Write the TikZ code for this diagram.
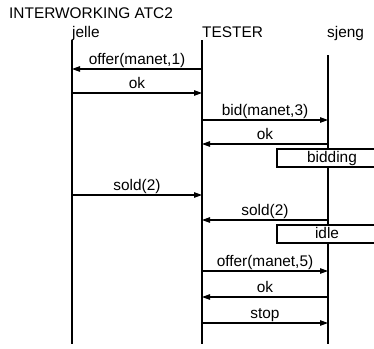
\documentclass[tikz,border=0pt]{standalone}
\usepackage{fontspec}
\setmainfont{Liberation Sans}
\usetikzlibrary{arrows.meta}
\begin{document}
\begin{tikzpicture}[x=1pt,y=-1pt,
  every node/.style={font=\fontsize{15.4}{18}\selectfont, inner sep=0pt},
  life/.style={line width=1.6pt},
  msg/.style={line width=1.1pt, -{Triangle[length=8pt,width=5.5pt]}},
  lbl/.style={anchor=base},
  statebox/.style={fill=white, line width=1.1pt}]
\useasboundingbox (0,0) rectangle (374,348);
\node[anchor=base west] (title) at (9,18.5) {INTERWORKING ATC2};
% lifeline heads
\node[anchor=base west] (jn) at (72,37.5) {jelle};
\node[anchor=base west] (tn) at (202,37.5) {TESTER};
\node[anchor=base west] (sn) at (327,37.5) {sjeng};
\coordinate (J) at (72,40);  \coordinate (Jb) at (72,344);
\coordinate (T) at (202,40); \coordinate (Tb) at (202,344);
\coordinate (S) at (328,55); \coordinate (Sb) at (328,344);
\draw[life] (J) -- (Jb);
\draw[life] (T) -- (Tb);
\draw[life] (S) -- (Sb);
% messages
\draw[msg] (T |- 0,69) -- (J |- 0,69);
\node[lbl] (m1) at (137,64.5) {offer(manet,1)};
\draw[msg] (J |- 0,93) -- (T |- 0,93);
\node[lbl] (m2) at (137,88) {ok};
\draw[msg] (T |- 0,120) -- (S |- 0,120);
\node[lbl] (m3) at (265,115) {bid(manet,3)};
\draw[msg] (S |- 0,144) -- (T |- 0,144);
\node[lbl] (m4) at (265,139) {ok};
\draw[statebox] (375,149) -- (277,149) -- (277,167) -- (375,167);
\node[lbl] (b1) at (332,162.5) {bidding};
\draw[msg] (J |- 0,195) -- (T |- 0,195);
\node[lbl] (m5) at (137,190) {sold(2)};
\draw[msg] (S |- 0,220) -- (T |- 0,220);
\node[lbl] (m6) at (265,215) {sold(2)};
\draw[statebox] (375,225) -- (277,225) -- (277,243) -- (375,243);
\node[lbl] (b2) at (327,238.5) {idle};
\draw[msg] (T |- 0,271) -- (S |- 0,271);
\node[lbl] (m7) at (265,266) {offer(manet,5)};
\draw[msg] (S |- 0,297) -- (T |- 0,297);
\node[lbl] (m8) at (265,292) {ok};
\draw[msg] (T |- 0,323) -- (S |- 0,323);
\node[lbl] (m9) at (265,318) {stop};
\end{tikzpicture}
\end{document}
